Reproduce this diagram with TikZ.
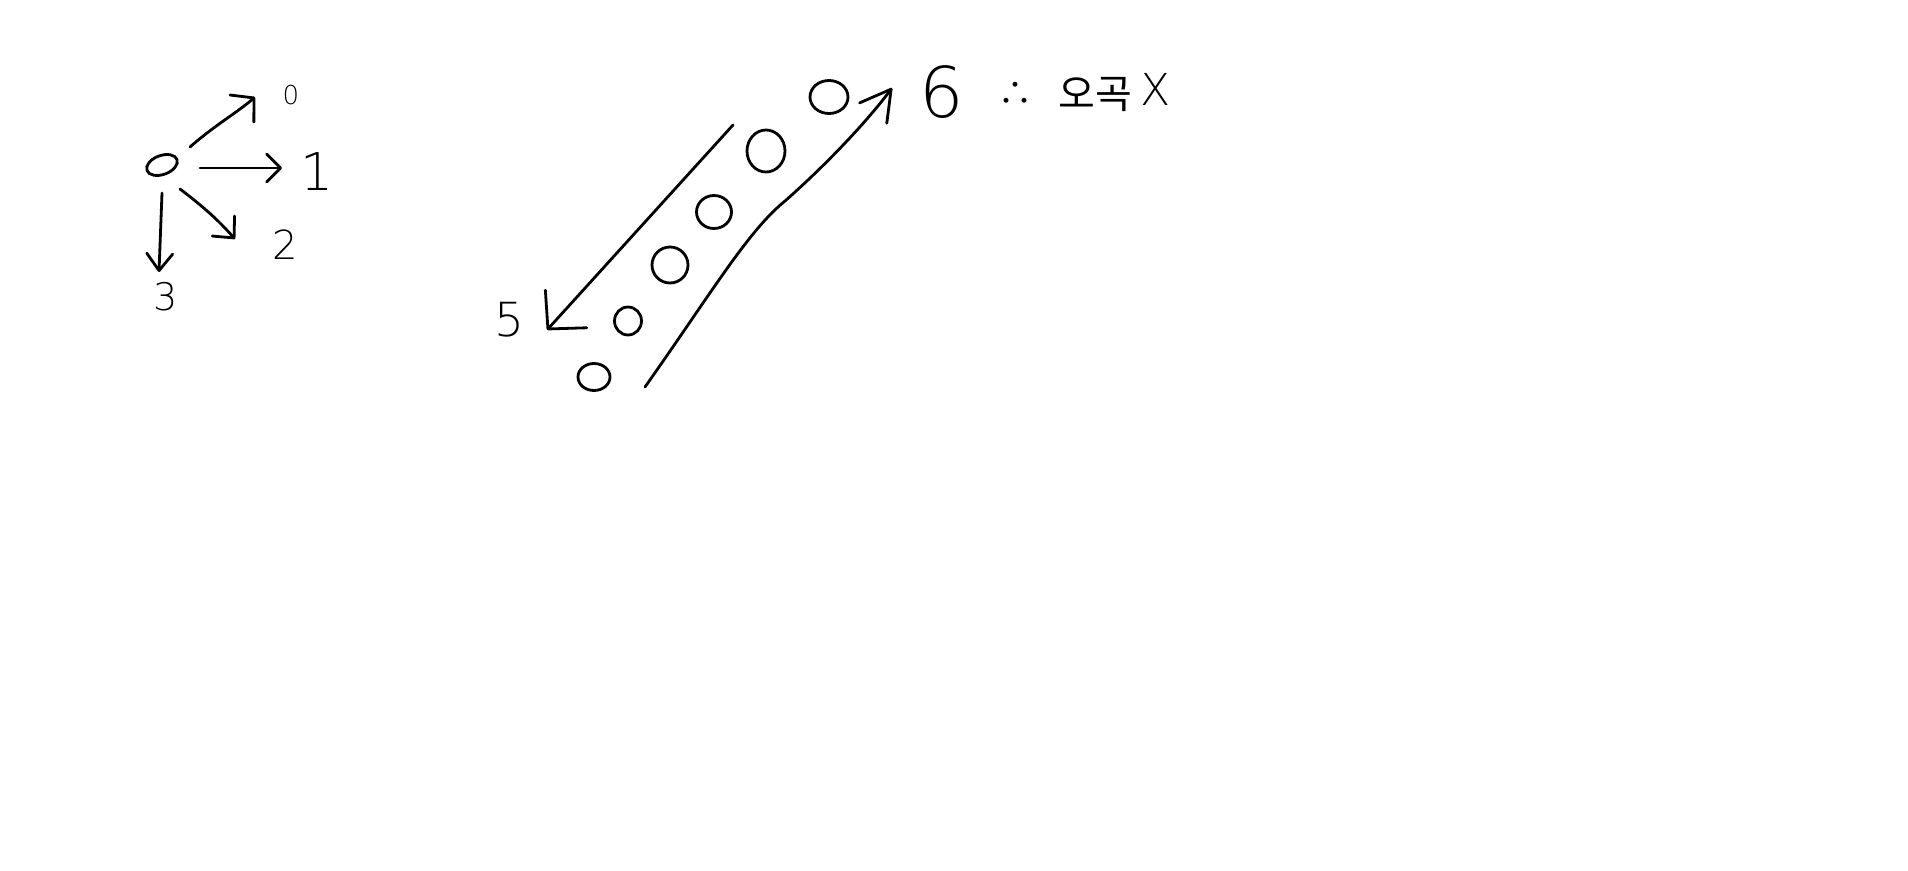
\documentclass[tikz,border=0pt]{standalone}
\usepackage{fontspec}
\setmainfont{DejaVu Sans ExtraLight}
\newfontfamily\kr{Noto Sans CJK KR}
\usetikzlibrary{arrows.meta,shapes.geometric}
\begin{document}
\begin{tikzpicture}[x=1pt,y=-1pt,
  sk/.style={line width=2.8pt,line cap=round,line join=round},
  cell/.style={draw,ellipse,line width=2.8pt,inner sep=0pt},
  lab/.style={inner sep=0pt},
  barb/.style 2 args={-{Straight Barb[length=#1,width=#2,line cap=round,line join=round]}}]
\useasboundingbox (0,0) rectangle (1908,870);
% ---- left cluster ----
\node[cell,minimum width=32pt,minimum height=19pt,rotate=20] (o) at (162,165) {};
\node[lab,font=\fontsize{26}{26}\selectfont] (l0) at (291,95) {0};
\node[lab,font=\fontsize{52}{52}\selectfont] (l1) at (317,172) {1};
\node[lab,font=\fontsize{40}{40}\selectfont] (l2) at (285,245) {2};
\node[lab,font=\fontsize{38}{38}\selectfont] (l3) at (166,297) {3};
\coordinate (s0) at (190,147); \coordinate (t0) at (255,97);
\coordinate (s1) at (200,168); \coordinate (t1) at (282,168);
\coordinate (s2) at (180,189); \coordinate (t2) at (235,239);
\coordinate (s3) at (162,193); \coordinate (t3) at (159,272);
\draw[sk,barb={16pt}{36pt}] (s0) .. controls (215,125) and (238,112) .. (t0);
\draw[sk,barb={14pt}{28pt}] (s1) -- (t1);
\draw[sk,barb={16pt}{30pt}] (s2) .. controls (205,208) and (218,220) .. (t2);
\draw[sk,barb={17pt}{26pt}] (s3) -- (t3);
% ---- diagonal ----
\node[cell,minimum width=32pt,minimum height=27pt] (c1) at (594,377) {};
\node[cell,minimum width=27pt,minimum height=28pt] (c2) at (628,321) {};
\node[cell,minimum width=36pt,minimum height=36pt] (c3) at (670,265) {};
\node[cell,minimum width=35pt,minimum height=33pt] (c4) at (714,212) {};
\node[cell,minimum width=38pt,minimum height=42pt] (c5) at (766,151) {};
\node[cell,minimum width=38pt,minimum height=33pt] (c6) at (829,97) {};
\node[lab,font=\fontsize{47}{47}\selectfont] (l5) at (509,320) {5};
\coordinate (a1) at (733,125); \coordinate (a2) at (547,330);
\draw[sk,barb={27pt}{56pt}] (a1) -- (a2);
\coordinate (b1) at (645,387); \coordinate (m) at (785,201);
\coordinate (b2) at (892,88);
\draw[sk,barb={30pt}{34pt}] (b1) .. controls (712,292) and (748,231) .. (m)
   .. controls (818,172) and (862,128) .. (b2);
% ---- right text ----
\node[lab,font=\fontsize{70}{70}\selectfont] (l6) at (942,92) {6};
\node[lab,font=\kr\fontsize{34}{34}\selectfont] (th) at (1015,94) {∴};
\node[lab,font=\kr\fontsize{40}{40}\selectfont] (kw) at (1095,94) {오곡};
\node[lab,font=\fontsize{44}{44}\selectfont] (lx) at (1156,89) {X};
\end{tikzpicture}
\end{document}
